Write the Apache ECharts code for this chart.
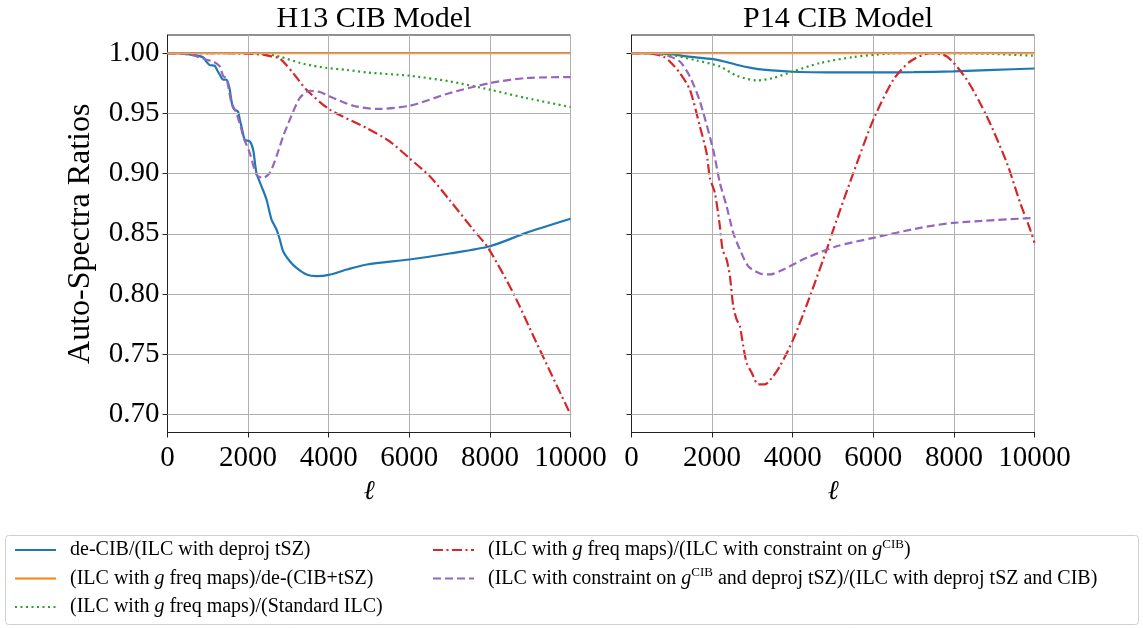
<!DOCTYPE html>
<html>
<head>
<meta charset="utf-8">
<script src="https://cdn.jsdelivr.net/npm/echarts@6/dist/echarts.min.js"></script>
<style>
  html, body { margin: 0; padding: 0; background: #fff; }
  #chart { width: 1143px; height: 628px; }
</style>
</head>
<body>
<div id="chart"></div>
<script>
// Multipole axis and ratio tick values
const ellTicks = [0, 2000, 4000, 6000, 8000, 10000];
const ratioTicks = [0.70, 0.75, 0.80, 0.85, 0.90, 0.95, 1.00];
const panelTitles = ['H13 CIB Model', 'P14 CIB Model'];

const seriesNames = [
  'de-CIB/(ILC with deproj tSZ)',
  '(ILC with g freq maps)/de-(CIB+tSZ)',
  '(ILC with g freq maps)/(Standard ILC)',
  '(ILC with g freq maps)/(ILC with constraint on gCIB)',
  '(ILC with constraint on gCIB and deproj tSZ)/(ILC with deproj tSZ and CIB)'
];

// H13 CIB model: [ell, ratio]
const h13DeCIB = [[0,1],[300,1],[600,0.9985],[800,0.9975],[900,0.996],[960,0.993],[1050,0.990],[1170,0.9895],[1230,0.986],[1300,0.982],[1380,0.978],[1460,0.978],[1530,0.972],[1600,0.958],[1650,0.9535],[1750,0.9515],[1794,0.9447],[1850,0.937],[1918,0.928],[2042,0.9267],[2125,0.9198],[2208,0.9005],[2333,0.8894],[2457,0.8784],[2581,0.8618],[2705,0.8535],[2787,0.8452],[2869,0.8355],[3035,0.8272],[3201,0.8217],[3449,0.8162],[3697,0.8148],[4000,0.8158],[4450,0.8203],[4950,0.8245],[6000,0.8286],[7000,0.8336],[8000,0.8396],[8900,0.8507],[10000,0.8624]];
const h13DeCIBtSZ = [[0,1],[10000,1]];
const h13Standard = [[0,1],[2000,1],[2400,0.9995],[2787,0.997],[3300,0.9917],[3614,0.9895],[3950,0.9876],[4442,0.986],[4950,0.9839],[6000,0.9812],[7000,0.9765],[8000,0.9696],[8900,0.9627],[10000,0.9552]];
const h13Constraint = [[0,1],[1000,1],[2000,0.9995],[2400,0.9985],[2550,0.9975],[2787,0.9955],[2950,0.990],[3118,0.9834],[3449,0.9696],[4028,0.953],[4938,0.9378],[5500,0.927],[5995,0.9129],[6509,0.8977],[7000,0.878],[7584,0.8535],[7955,0.8383],[8576,0.801],[9156,0.7595],[10000,0.700]];
const h13DeprojCIB = [[0,1],[600,0.9985],[968,0.9944],[1132,0.993],[1298,0.989],[1380,0.981],[1464,0.979],[1588,0.9585],[1700,0.951],[1836,0.9364],[1876,0.9308],[2042,0.917],[2208,0.899],[2373,0.8964],[2538,0.9005],[2705,0.9143],[2869,0.9308],[3035,0.9447],[3283,0.9627],[3531,0.9687],[3800,0.9675],[4028,0.964],[4606,0.9563],[5186,0.9536],[6012,0.9563],[7005,0.9668],[8000,0.9751],[8908,0.9793],[10000,0.9801]];

// P14 CIB model: [ell, ratio]
const p14DeCIB = [[0,1],[540,1],[1000,0.999],[1366,0.9972],[2027,0.995],[2300,0.993],[2608,0.9903],[3000,0.9875],[3269,0.9862],[4014,0.9845],[5000,0.984],[6001,0.9839],[7000,0.9842],[7988,0.9848],[9000,0.986],[10000,0.9872]];
const p14DeCIBtSZ = [[0,1],[10000,1]];
const p14Standard = [[0,1],[500,0.9998],[951,0.9986],[1615,0.9939],[2193,0.9889],[2608,0.9812],[3105,0.9773],[3517,0.9793],[4014,0.9848],[4677,0.9917],[5505,0.9967],[6334,0.9994],[7161,1.0],[8818,0.9994],[10000,0.9978]];
const p14Constraint = [[0,1],[500,0.9995],[785,0.9972],[951,0.993],[1200,0.9834],[1448,0.9696],[1697,0.9391],[1863,0.917],[1945,0.8964],[2069,0.8839],[2193,0.8562],[2260,0.8369],[2360,0.8286],[2442,0.8148],[2524,0.7899],[2608,0.7789],[2690,0.7733],[2772,0.7567],[2856,0.743],[2981,0.7347],[3145,0.725],[3311,0.725],[3517,0.7318],[3684,0.7401],[4014,0.7623],[4429,0.7982],[4844,0.8369],[5008,0.8535],[5505,0.9005],[6001,0.9447],[6498,0.9779],[6913,0.993],[7409,1.0],[7824,0.9972],[8321,0.9779],[8818,0.9474],[9314,0.9088],[9645,0.8756],[9893,0.8535],[10000,0.8425]];
const p14DeprojCIB = [[0,1],[600,0.9995],[951,0.9972],[1200,0.993],[1448,0.9806],[1697,0.9599],[2027,0.9198],[2193,0.8922],[2360,0.8728],[2524,0.8507],[2690,0.8369],[2897,0.823],[3187,0.817],[3435,0.8162],[3684,0.819],[4347,0.83],[5092,0.8396],[6001,0.8466],[7161,0.8549],[7988,0.859],[10000,0.8632]];

const panels = [
  [h13DeCIB, h13DeCIBtSZ, h13Standard, h13Constraint, h13DeprojCIB],
  [p14DeCIB, p14DeCIBtSZ, p14Standard, p14Constraint, p14DeprojCIB]
];

const colors = ['#1f77b4', '#ff7f0e', '#2ca02c', '#d62728', '#9467bd'];
const dashes = ['solid', 'solid', [2, 3.5], [10, 3.5, 2, 3.5], [8, 4]];

const FONT = 'Liberation Serif';

const gridLeft = [167.5, 631.5];
const grids = gridLeft.map(l => ({
  left: l, top: 35, width: 403, height: 397.5,
  show: true, borderColor: '#222', borderWidth: 1, backgroundColor: 'transparent'
}));

const xAxes = gridLeft.map((_, i) => ({
  type: 'value', gridIndex: i, min: 0, max: 10000, interval: 2000,
  name: 'ℓ', nameLocation: 'middle', nameGap: 46,
  nameTextStyle: { fontFamily: 'DejaVu Serif', fontStyle: 'italic', fontSize: 27, color: '#000' },
  axisLine: { show: true, onZero: false, lineStyle: { color: '#222', width: 1 } },
  axisTick: { show: true, length: 5, lineStyle: { color: '#222' } },
  axisLabel: { fontFamily: FONT, fontSize: 29, color: '#000', margin: 11,
    formatter: v => String(v) },
  splitLine: { show: true, lineStyle: { color: '#b0b0b0', width: 1 } }
}));

const yAxes = gridLeft.map((_, i) => ({
  type: 'value', gridIndex: i, min: 0.685, max: 1.015,
  name: i === 0 ? 'Auto-Spectra Ratios' : '',
  nameLocation: 'middle', nameGap: 71, nameRotate: 90,
  nameTextStyle: { fontFamily: FONT, fontSize: 32, color: '#000' },
  axisLine: { show: true, onZero: false, lineStyle: { color: '#222', width: 1 } },
  axisTick: { show: true, length: 5, customValues: ratioTicks, lineStyle: { color: '#222' } },
  axisLabel: { show: i === 0, customValues: ratioTicks, fontFamily: FONT, fontSize: 29,
    color: '#000', margin: 8, formatter: v => v.toFixed(2) },
  splitLine: { show: false }
}));

const series = [];
// horizontal grid lines at the ratio ticks
gridLeft.forEach((_, i) => {
  series.push({
    type: 'line', name: 'grid' + i, xAxisIndex: i, yAxisIndex: i, data: [], z: 1,
    silent: true,
    markLine: {
      silent: true, symbol: 'none', animation: false,
      label: { show: false },
      lineStyle: { color: '#b0b0b0', width: 1, type: 'solid' },
      data: ratioTicks.map(v => ({ yAxis: v }))
    }
  });
});
panels.forEach((curves, i) => {
  curves.forEach((data, k) => {
    series.push({
      type: 'line', name: seriesNames[k], xAxisIndex: i, yAxisIndex: i,
      data: data, showSymbol: false, symbol: 'none', smooth: 0.25,
      z: 3 + (k === 1 ? 1 : 0), clip: true,
      lineStyle: { color: colors[k], width: 2.2, type: dashes[k], cap: 'butt' },
      itemStyle: { color: colors[k] }
    });
  });
});

const legendLabels = {
  [seriesNames[0]]: 'de-CIB/(ILC with deproj tSZ)',
  [seriesNames[1]]: '(ILC with {i|g} freq maps)/de-(CIB+tSZ)',
  [seriesNames[2]]: '(ILC with {i|g} freq maps)/(Standard ILC)',
  [seriesNames[3]]: '(ILC with {i|g} freq maps)/(ILC with constraint on {i|g}{sup|CIB})',
  [seriesNames[4]]: '(ILC with constraint on {i|g}{sup|CIB} and deproj tSZ)/(ILC with deproj tSZ and CIB)'
};

const legendText = {
  fontFamily: FONT, fontSize: 20, color: '#000', lineHeight: 24, padding: [0, 0, 0, 9],
  rich: {
    i: { fontFamily: FONT, fontStyle: 'italic', fontSize: 20, lineHeight: 24 },
    sup: { fontFamily: FONT, fontSize: 13, lineHeight: 24, verticalAlign: 'top' }
  }
};
const legendBase = {
  orient: 'vertical', top: 533, itemWidth: 41, itemHeight: 14, itemGap: 4.5,
  selectedMode: false, formatter: n => legendLabels[n], textStyle: legendText,
  itemStyle: { opacity: 0, borderWidth: 0 }
};

const option = {
  animation: false,
  backgroundColor: '#fff',
  textStyle: { fontFamily: FONT },
  title: panelTitles.map((t, i) => ({
    text: t, left: gridLeft[i] + 201.5, top: -1, textAlign: 'center',
    textStyle: { fontFamily: FONT, fontSize: 30, fontWeight: 'normal', color: '#000' }
  })),
  grid: grids,
  xAxis: xAxes,
  yAxis: yAxes,
  legend: [
    Object.assign({}, legendBase, { left: 9, data: seriesNames.slice(0, 3) }),
    Object.assign({}, legendBase, { left: 427, data: seriesNames.slice(3) })
  ],
  graphic: [{
    type: 'rect', silent: true, z: -1,
    shape: { x: 5.5, y: 535.5, width: 1133, height: 89, r: 3 },
    style: { fill: '#fff', stroke: '#d0d0d0', lineWidth: 1 }
  }],
  series: series
};

const chart = echarts.init(document.getElementById('chart'), null, { renderer: 'canvas' });
chart.setOption(option);
</script>
</body>
</html>
